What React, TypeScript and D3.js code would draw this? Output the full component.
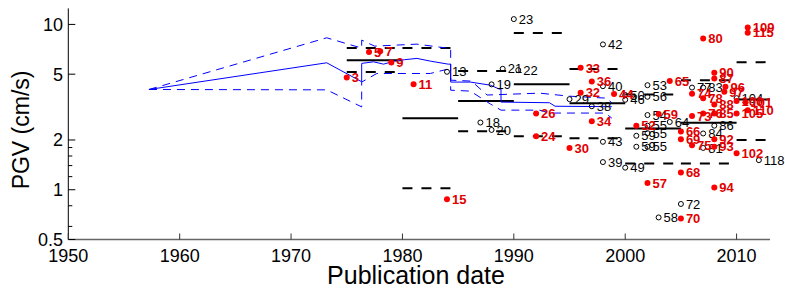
import React, { useEffect, useRef } from 'react';
import * as d3 from 'd3';

// Filled (red) studies: publication year, PGV, study number
const redYears = [1975, 1977, 1978, 1979, 1981, 1984, 1992, 1992, 1995, 1996, 1996, 1997, 1997, 1999, 2001, 2002, 2003, 2004, 2005, 2005, 2005, 2005, 2006, 2006, 2006, 2007, 2007, 2007, 2008, 2008, 2008, 2008, 2008, 2008, 2008, 2009, 2008.9, 2010, 2010.8, 2010, 2010, 2011, 2011, 2011];
const redValues = [4.78, 6.8, 6.89, 5.89, 4.34, 0.877, 2.11, 2.89, 1.79, 3.86, 5.46, 2.6, 4.52, 3.79, 2.44, 1.1, 2.87, 4.54, 2.25, 1.27, 2.02, 0.67, 2.79, 3.81, 1.86, 2.89, 3.58, 8.23, 2.89, 4.71, 3.28, 5.1, 2.02, 1.82, 1.03, 4.19, 3.91, 3.44, 3.38, 1.66, 2.89, 9.59, 3.03, 8.9];
const redLabels = ['3', '5', '7', '9', '11', '15', '24', '26', '30', '32', '33', '34', '36', '44', '52', '57', '59', '65', '66', '68', '69', '70', '73', '74', '75', '76', '78', '80', '85', '87', '88', '90', '92', '93', '94', '96', '97', '100', '101', '102', '105', '109', '110', '115'];

// Open (black) studies
const openYears = [1984, 1987, 1988, 1988, 1989, 1990.4, 1990, 1995, 1997, 1998, 1998, 1998, 1998, 2000, 2000, 2000, 2002, 2002, 2002, 2001, 2001, 2002, 2002, 2002, 2003, 2004, 2005, 2006, 2007, 2007, 2007, 2008, 2010, 2012];
const openValues = [5.17, 2.55, 4.34, 2.3, 5.39, 5.29, 10.77, 3.53, 3.2, 1.47, 4.23, 7.57, 1.95, 3.5, 3.74, 1.36, 4.29, 2.83, 2.2, 2.12, 1.82, 1.82, 2.44, 3.65, 0.68, 2.57, 0.82, 4.15, 4.15, 1.79, 2.19, 2.44, 3.58, 1.51];
const openLabels = ['13', '18', '19', '20', '21', '22', '23', '29', '38', '39', '40', '42', '43', '46', '50', '49', '53', '54', '55', '59', '59', '55', '55', '56', '58', '64', '72', '77', '83', '81', '84', '86', '104', '118'];

// Five-year bins: median (solid) and spread (dashed)
const binStart = [1975, 1980, 1985, 1990, 1995, 2000, 2005, 2010];
const binEnd = [1980, 1985, 1990, 1995, 2000, 2005, 2010, 2013];
const binMedian = [6.08, 2.71, 3.44, 4.34, 3.33, 2.35, 2.54, 3.52];
const binLower = [5.15, 1.02, 2.26, 2.11, 2.05, 1.44, 1.44, 2.0];
const binUpper = [7.19, 7.19, 5.22, 8.86, 5.37, 3.77, 4.6, 5.91];

// Running estimate (blue)
const midYears = [1957.24, 1973.2, 1976.34, 1976.34, 1977.4, 1978.3, 1979.3, 1980.2, 1981.3, 1982.5, 1984.1, 1984.33, 1984.33, 1986.1, 1987.9, 1988.7, 1988.85, 1988.85, 1993.2, 1993.7, 1998.8];
const midValues = [4.04, 5.86, 4.5, 5.81, 5.94, 5.75, 6.0, 6.12, 6.23, 6.0, 5.75, 5.75, 4.48, 4.48, 4.29, 4.06, 4.06, 3.39, 3.36, 3.2, 3.18];
const upYears = [1957.24, 1973.2, 1976.34, 1976.34, 1977.5, 1981.3, 1984.0, 1984.33, 1984.33, 1986.2, 1987.6, 1992.3, 1995.0, 1998.4, 1998.8];
const upValues = [4.04, 8.3, 7.19, 8.04, 7.39, 7.6, 7.19, 7.19, 4.6, 4.54, 3.74, 3.84, 3.68, 3.58, 3.34];
const loYears = [1957.24, 1973.2, 1976.34, 1976.34, 1977.7, 1982.5, 1983.9, 1984.33, 1984.33, 1986.1, 1987.9, 1988.85, 1992.3, 1993.2, 1998.2, 1998.8];
const loValues = [4.04, 4.02, 3.17, 4.48, 5.05, 5.05, 5.33, 5.33, 4.0, 3.95, 3.3, 3.03, 3.03, 2.91, 2.91, 2.71];

const xTicks = [1950, 1960, 1970, 1980, 1990, 2000, 2010];
const yTicks = [0.5, 1, 2, 5, 10];
const yMinorTicks = [0.6, 0.8, 1.2, 1.4, 1.6, 1.8];

const App: React.FC = () => {
  const svgRef = useRef<SVGSVGElement>(null);

  useEffect(() => {
    if (!svgRef.current) return;
    const svg = d3.select(svgRef.current);
    svg.selectAll('*').remove();

    const font = "'Liberation Sans', Arial, sans-serif";
    const x = d3.scaleLinear().domain([1950, 2013]).range([68.3, 770]);
    const y = d3.scaleLog().domain([0.5, 12.5]).range([239.5, 8.4]);

    // axes
    svg.append('line')
      .attr('x1', x(1950)).attr('x2', x(1950))
      .attr('y1', y(12.5)).attr('y2', y(0.5))
      .attr('stroke', '#000').attr('stroke-width', 1);
    svg.append('line')
      .attr('x1', x(1950)).attr('x2', x(2013))
      .attr('y1', y(0.5)).attr('y2', y(0.5))
      .attr('stroke', '#666').attr('stroke-width', 1.6);

    svg.selectAll('.xtick').data(xTicks).enter().append('line')
      .attr('x1', d => x(d)).attr('x2', d => x(d))
      .attr('y1', y(0.5)).attr('y2', y(0.5) - 6)
      .attr('stroke', '#333').attr('stroke-width', 1);
    svg.selectAll('.xlab').data(xTicks).enter().append('text')
      .attr('x', d => x(d)).attr('y', 262)
      .attr('text-anchor', 'middle')
      .attr('font-family', font).attr('font-size', 18)
      .text(d => d);

    svg.selectAll('.ytick').data(yTicks).enter().append('line')
      .attr('x1', x(1950)).attr('x2', x(1950) + 7)
      .attr('y1', d => y(d)).attr('y2', d => y(d))
      .attr('stroke', '#000').attr('stroke-width', 1);
    svg.selectAll('.yminor').data(yMinorTicks).enter().append('line')
      .attr('x1', x(1950)).attr('x2', x(1950) + 4)
      .attr('y1', d => y(d)).attr('y2', d => y(d))
      .attr('stroke', '#000').attr('stroke-width', 1);
    svg.selectAll('.ylab').data(yTicks).enter().append('text')
      .attr('x', 63).attr('y', d => y(d))
      .attr('dy', '0.36em')
      .attr('text-anchor', 'end')
      .attr('font-family', font).attr('font-size', 18)
      .text(d => d);

    svg.append('text')
      .attr('transform', `translate(29,${y(2.3)}) rotate(-90)`)
      .attr('text-anchor', 'middle')
      .attr('font-family', font).attr('font-size', 23)
      .text('PGV (cm/s)');
    svg.append('text')
      .attr('x', 416).attr('y', 284)
      .attr('text-anchor', 'middle')
      .attr('font-family', font).attr('font-size', 25)
      .text('Publication date');

    // bin lines
    const bins = binStart.map((s, i) => ({ s, e: binEnd[i], m: binMedian[i], lo: binLower[i], up: binUpper[i] }));
    const g = svg.append('g');
    bins.forEach(b => {
      g.append('line')
        .attr('x1', x(b.s)).attr('x2', x(b.e))
        .attr('y1', y(b.m)).attr('y2', y(b.m))
        .attr('stroke', '#000').attr('stroke-width', 2);
      [b.lo, b.up].forEach(v => {
        g.append('line')
          .attr('x1', x(b.s)).attr('x2', x(b.e))
          .attr('y1', y(v)).attr('y2', y(v))
          .attr('stroke', '#000').attr('stroke-width', 2)
          .attr('stroke-dasharray', '10,9');
      });
    });

    // running estimate
    const line = d3.line<[number, number]>().x(d => x(d[0])).y(d => y(d[1]));
    svg.append('path')
      .attr('d', line(midYears.map((t, i) => [t, midValues[i]]) as [number, number][]))
      .attr('fill', 'none').attr('stroke', '#0000ff').attr('stroke-width', 1);
    svg.append('path')
      .attr('d', line(upYears.map((t, i) => [t, upValues[i]]) as [number, number][]))
      .attr('fill', 'none').attr('stroke', '#0000ff').attr('stroke-width', 1)
      .attr('stroke-dasharray', '8,6');
    svg.append('path')
      .attr('d', line(loYears.map((t, i) => [t, loValues[i]]) as [number, number][]))
      .attr('fill', 'none').attr('stroke', '#0000ff').attr('stroke-width', 1)
      .attr('stroke-dasharray', '8,6');

    // open circles
    const open = openYears.map((t, i) => ({ t, v: openValues[i], l: openLabels[i] }));
    svg.selectAll('.open').data(open).enter().append('circle')
      .attr('cx', d => x(d.t)).attr('cy', d => y(d.v)).attr('r', 2.5)
      .attr('fill', 'none').attr('stroke', '#000').attr('stroke-width', 1);
    svg.selectAll('.openlab').data(open).enter().append('text')
      .attr('x', d => x(d.t) + 5).attr('y', d => y(d.v))
      .attr('dy', '0.36em')
      .attr('font-family', font).attr('font-size', 13)
      .attr('fill', '#000')
      .text(d => d.l);

    // filled circles
    const red = redYears.map((t, i) => ({ t, v: redValues[i], l: redLabels[i] }));
    svg.selectAll('.red').data(red).enter().append('circle')
      .attr('cx', d => x(d.t)).attr('cy', d => y(d.v)).attr('r', 3)
      .attr('fill', '#ff0000');
    svg.selectAll('.redlab').data(red).enter().append('text')
      .attr('x', d => x(d.t) + 5).attr('y', d => y(d.v))
      .attr('dy', '0.36em')
      .attr('font-family', font).attr('font-size', 13)
      .attr('font-weight', 'bold')
      .attr('fill', '#e00000')
      .text(d => d.l);
  }, []);

  return (
    <svg
      ref={svgRef}
      width={785}
      height={290}
      style={{ position: 'absolute', left: 0, top: 0, background: '#fff' }}
    />
  );
};

export default App;
